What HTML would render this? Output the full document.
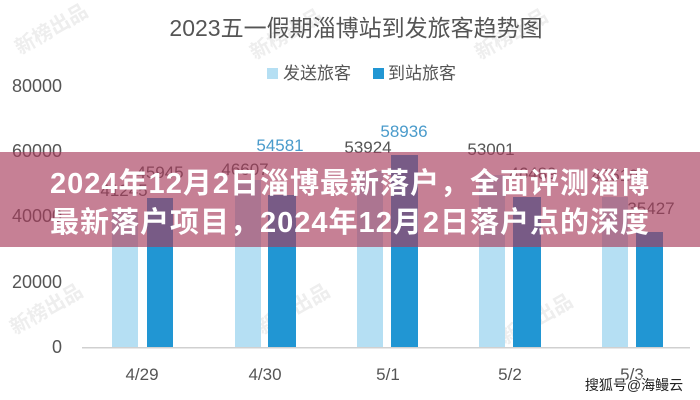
<!DOCTYPE html>
<html>
<head>
<meta charset="utf-8">
<style>
  html,body{margin:0;padding:0;background:#fff;}
  body{width:700px;height:400px;overflow:hidden;}
  svg{display:block;}
  .t{font-family:"Liberation Sans","Noto Sans CJK SC",sans-serif;}
</style>
</head>
<body>
<svg width="700" height="400" viewBox="0 0 700 400" xmlns="http://www.w3.org/2000/svg">
  <rect x="0" y="0" width="700" height="400" fill="#ffffff"/>

  <!-- faint watermarks -->
  <g class="t" fill="#eeeeee" font-size="20" font-weight="bold">
    <text x="20" y="55" transform="rotate(-30 20 55)">新榜出品</text>
    <text x="255" y="60" transform="rotate(-30 255 60)">新榜出品</text>
    <text x="480" y="60" transform="rotate(-30 480 60)">新榜出品</text>
    <text x="15" y="335" transform="rotate(-30 15 335)">新榜出品</text>
    <text x="262" y="335" transform="rotate(-30 262 335)">新榜出品</text>
    <text x="505" y="345" transform="rotate(-30 505 345)">新榜出品</text>
  </g>

  <!-- title -->
  <text class="t" x="356" y="36" font-size="23" fill="#555" text-anchor="middle">2023五一假期淄博站到发旅客趋势图</text>

  <!-- legend -->
  <rect x="267" y="68" width="11" height="11" fill="#b5dff3"/>
  <text class="t" x="283" y="79" font-size="17" fill="#555">发送旅客</text>
  <rect x="373" y="68" width="11" height="11" fill="#2196d3"/>
  <text class="t" x="388" y="79" font-size="17" fill="#555">到站旅客</text>

  <!-- y axis labels -->
  <g class="t" font-size="18" fill="#555" text-anchor="end">
    <text x="62" y="92">80000</text>
    <text x="62" y="157">60000</text>
    <text x="62" y="222">40000</text>
    <text x="62" y="288">20000</text>
    <text x="62" y="353">0</text>
  </g>

  <!-- bars -->
  <g>
    <rect x="112" y="212" width="26" height="135" fill="#b5dff3"/>
    <rect x="147" y="198" width="26" height="149" fill="#2196d3"/>

    <rect x="235" y="180" width="26" height="167" fill="#b5dff3"/>
    <rect x="268" y="195" width="28" height="152" fill="#2196d3"/>

    <rect x="357" y="171" width="26" height="176" fill="#b5dff3"/>
    <rect x="391" y="155" width="27" height="192" fill="#2196d3"/>

    <rect x="479" y="175" width="26" height="172" fill="#b5dff3"/>
    <rect x="513" y="197" width="28" height="150" fill="#2196d3"/>

    <rect x="602" y="197" width="26" height="150" fill="#b5dff3"/>
    <rect x="636" y="232" width="27" height="115" fill="#2196d3"/>
  </g>

  <!-- axis line -->
  <rect x="82" y="347" width="608" height="1.5" fill="#d0d0d0"/>

  <!-- value labels -->
  <g class="t" font-size="17" text-anchor="middle" fill="#555">
    <text x="124" y="196">41245</text>
    <text x="160" y="178">45945</text>
    <text x="245" y="175">46607</text>
    <text x="280" y="151" fill="#4a9bcb">54581</text>
    <text x="368" y="153">53924</text>
    <text x="404" y="137" fill="#4a9bcb">58936</text>
    <text x="491" y="155">53001</text>
    <text x="533" y="179">46489</text>
    <text x="615" y="181">43519</text>
    <text x="651" y="214">35427</text>
  </g>

  <!-- x labels -->
  <g class="t" font-size="17" fill="#555" text-anchor="middle">
    <text x="142" y="380">4/29</text>
    <text x="265" y="380">4/30</text>
    <text x="388" y="380">5/1</text>
    <text x="510" y="380">5/2</text>
    <text x="632" y="380">5/3</text>
  </g>

  <!-- overlay band -->
  <rect x="0" y="152" width="700" height="95" fill="rgb(168,60,92)" fill-opacity="0.65"/>
  <g class="t" font-size="29" font-weight="bold" fill="#ffffff" text-anchor="middle" letter-spacing="1">
    <text x="350" y="193">2024年12月2日淄博最新落户，全面评测淄博</text>
    <text x="350" y="232">最新落户项目，2024年12月2日落户点的深度</text>
  </g>

  <!-- bottom-right watermark -->
  <text class="t" x="634" y="390" font-size="14" text-anchor="middle" fill="#222" stroke="#ffffff" stroke-width="2.5" paint-order="stroke">搜狐号@海鳗云</text>
</svg>
</body>
</html>
